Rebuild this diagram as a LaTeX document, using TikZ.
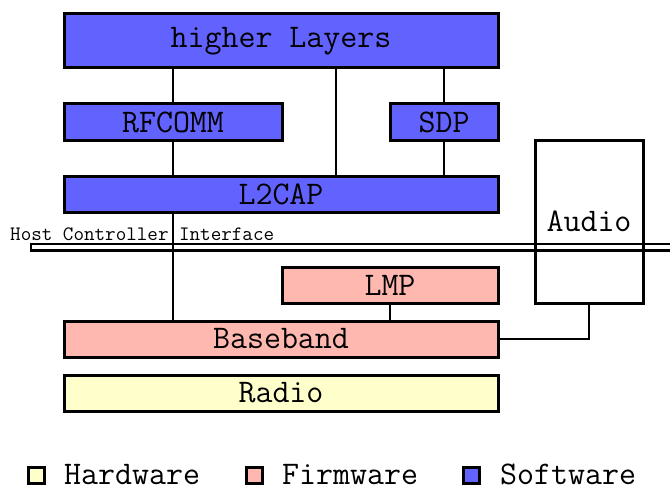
\documentclass[tikz,border=0pt]{standalone}
\usepackage{fontspec}
\definecolor{swblue}{HTML}{6262FF}
\definecolor{fwpink}{HTML}{FFB8B0}
\definecolor{hwyellow}{HTML}{FFFFCC}
\newcommand{\stackfont}{\ttfamily\fontsize{33}{34}\selectfont}
\tikzset{
  layer/.style={draw=black, line width=3pt, inner sep=0pt, outer sep=0pt,
    font=\stackfont},
  sw/.style={layer, fill=swblue},
  fw/.style={layer, fill=fwpink},
  hw/.style={layer, fill=hwyellow},
  link/.style={line width=2.7pt},
  swatch/.style={draw=black, line width=3pt, minimum size=16pt, inner sep=0pt, outer sep=0pt},
  legendtext/.style={anchor=base west, inner sep=0pt, text depth=0pt, font=\stackfont},
}
\begin{document}
\begin{tikzpicture}[x=1pt, y=-1pt]
\useasboundingbox (0,0) rectangle (670,487);

% protocol stack boxes
\node[sw, minimum width=434pt, minimum height=54pt] (higher) at (281,41) {higher Layers};
\node[sw, minimum width=218pt, minimum height=36pt] (rfcomm) at (173,122) {RFCOMM};
\node[sw, minimum width=108pt, minimum height=36pt] (sdp) at (444,122) {SDP};
\node[sw, minimum width=434pt, minimum height=36pt] (l2cap) at (281,194) {L2CAP};
\node[fw, minimum width=216pt, minimum height=36pt] (lmp) at (390,285) {LMP};
\node[fw, minimum width=434pt, minimum height=36pt] (baseband) at (281,339) {Baseband};
\node[hw, minimum width=434pt, minimum height=36pt] (radio) at (281,393) {Radio};
\node[layer, minimum width=108pt, minimum height=163pt] (audio) at (589,221.5) {Audio};

% host controller interface bar
\coordinate (hcil) at (31,244);
\coordinate (hcir) at (675,250.5);
\draw[line width=2.4pt, fill=white] (hcil) rectangle (hcir);
\node[anchor=base west, inner sep=0pt, text depth=0pt,
  font=\ttfamily\fontsize{20.5}{22}\selectfont] (hcitext) at (10,240.5) {Host Controller Interface};

% connections between layers
\coordinate (mid) at (336,0);
\draw[link] (rfcomm.north) -- (rfcomm.north |- higher.south);
\draw[link] (higher.south -| mid) -- (l2cap.north -| mid);
\draw[link] (sdp.north) -- (sdp.north |- higher.south);
\draw[link] (rfcomm.south) -- (rfcomm.south |- l2cap.north);
\draw[link] (sdp.south) -- (sdp.south |- l2cap.north);
\draw[link] (l2cap.south -| rfcomm.south) -- (baseband.north -| rfcomm.south);
\draw[link] (lmp.south) -- (lmp.south |- baseband.north);
\draw[link] (audio.south) -- (audio.south |- baseband.east) -- (baseband.east);
% audio box sides run across the interface bar
\draw[line width=3pt] (audio.north west) -- (audio.south west);
\draw[line width=3pt] (audio.north east) -- (audio.south east);

% legend
\node[swatch, fill=hwyellow] (hwkey) at (36,475) {};
\node[legendtext] (hwlabel) at (64,484) {Hardware};
\node[swatch, fill=fwpink] (fwkey) at (254,475) {};
\node[legendtext] (fwlabel) at (282,484) {Firmware};
\node[swatch, fill=swblue] (swkey) at (471,475) {};
\node[legendtext] (swlabel) at (500,484) {Software};
\end{tikzpicture}
\end{document}
